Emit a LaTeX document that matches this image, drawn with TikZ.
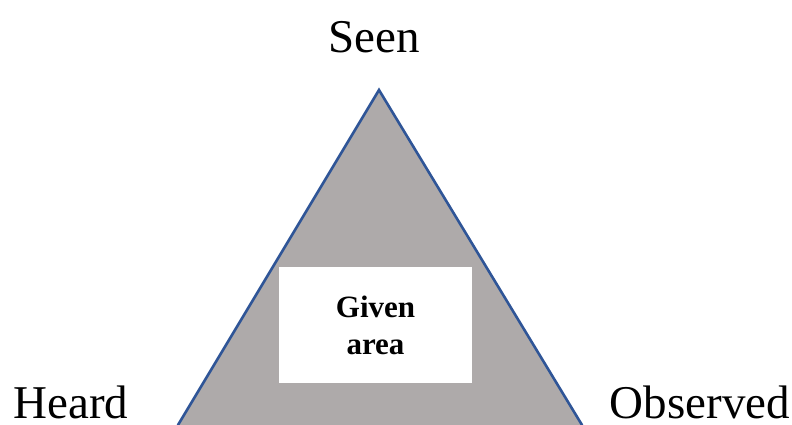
\documentclass[tikz,border=0pt]{standalone}
\usepackage{fontspec}
\setmainfont{Liberation Serif}
\usetikzlibrary{positioning}
\definecolor{areagray}{RGB}{174,170,170}
\definecolor{edgeblue}{RGB}{47,85,151}
\tikzset{corner/.style={font=\fontsize{47}{50}\selectfont,anchor=base,inner sep=0pt}}

\begin{document}
\begin{tikzpicture}[x=1pt,y=-1pt]
    \useasboundingbox (0,0) rectangle (792,425);
    \coordinate (top) at (379,90);
    \coordinate (bl) at (178,425);
    \coordinate (br) at (582,425);
    \fill[areagray] (top) -- (br) -- (bl) -- cycle;
    \draw[edgeblue,line width=2.6pt,line cap=round] (bl) -- (top) -- (br);
    \node[fill=white,minimum width=193pt,minimum height=116pt,inner sep=0pt] (area) at (375.5,325) {};
    \node[font=\fontsize{31}{37}\selectfont\bfseries,align=center] (given) at (area) {Given\\area};
    % corner labels
    \node[corner] (seen) at (374,53) {Seen};
    \node[corner] (heard) at (71,418) {Heard};
    \node[corner] (observed) at (700,418) {Observed};
\end{tikzpicture}
\end{document}
